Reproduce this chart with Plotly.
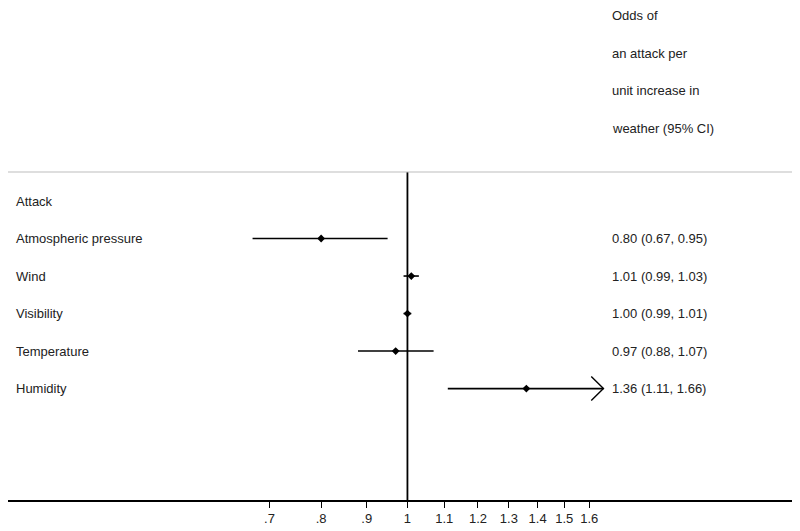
import numpy as np
import plotly.graph_objects as go

labels = ["Attack", "Atmospheric pressure", "Wind", "Visibility", "Temperature", "Humidity"]
or_est = [None, 0.80, 1.01, 1.00, 0.97, 1.36]
ci_lo = [None, 0.67, 0.99, 0.99, 0.88, 1.11]
ci_hi = [None, 0.95, 1.03, 1.01, 1.07, 1.66]
axis_max = 1.6  # CIs beyond this are drawn with an arrow
tick_vals = [0.7, 0.8, 0.9, 1.0, 1.1, 1.2, 1.3, 1.4, 1.5, 1.6]
tick_text = [".7", ".8", ".9", "1", "1.1", "1.2", "1.3", "1.4", "1.5", "1.6"]
header = ["Odds of", "an attack per", "unit increase in", "weather (95% CI)"]

FONT = "Liberation Sans, Arial, Helvetica, sans-serif"
fig = go.Figure()

# CI lines
for i, (e, lo, hi) in enumerate(zip(or_est, ci_lo, ci_hi)):
    if e is None:
        continue
    fig.add_trace(go.Scatter(x=[lo, hi], y=[i, i], mode="lines",
                             line=dict(color="black", width=1.6),
                             hoverinfo="skip", showlegend=False))
    if hi > axis_max:
        # open arrowhead at the upper CI end
        back = hi * 0.969
        fig.add_trace(go.Scatter(x=[back, hi, back], y=[i - 0.32, i, i + 0.32],
                                 mode="lines", line=dict(color="black", width=1.4),
                                 hoverinfo="skip", showlegend=False))

# Point estimates
ys = [i for i, e in enumerate(or_est) if e is not None]
xs = [e for e in or_est if e is not None]
fig.add_trace(go.Scatter(x=xs, y=ys, mode="markers",
                         marker=dict(symbol="diamond", size=6, color="black"),
                         showlegend=False))

annotations = []
for i, lab in enumerate(labels):
    annotations.append(dict(x=0.0076, xref="paper", y=i, yref="y", text=lab,
                            showarrow=False, xanchor="left", yanchor="middle",
                            font=dict(size=13, color="#222")))
    if or_est[i] is not None:
        txt = f"{or_est[i]:.2f} ({ci_lo[i]:.2f}, {ci_hi[i]:.2f})"
        annotations.append(dict(x=0.7665, xref="paper", y=i, yref="y", text=txt,
                                showarrow=False, xanchor="left", yanchor="middle",
                                font=dict(size=13, color="#222")))
for k, h in enumerate(header):
    annotations.append(dict(x=0.7665, xref="paper", y=1.476 - k * 0.114, yref="paper", text=h,
                            showarrow=False, xanchor="left", yanchor="middle",
                            font=dict(size=13, color="#222")))

shapes = [
    dict(type="line", xref="x", yref="paper", x0=1, x1=1, y0=0, y1=1,
         line=dict(color="black", width=1.8)),
    dict(type="line", xref="paper", yref="paper", x0=0, x1=1, y0=1, y1=1,
         line=dict(color="#bdbdbd", width=1.2)),
]

fig.update_layout(
    width=800, height=531,
    margin=dict(l=0, r=15, t=164, b=39),
    paper_bgcolor="white", plot_bgcolor="white",
    font=dict(family=FONT, size=13, color="#222"),
    annotations=annotations, shapes=shapes,
    xaxis=dict(type="log", range=[np.log10(0.356), np.log10(2.71)],
               tickvals=tick_vals, ticktext=tick_text,
               showline=True, linecolor="black", linewidth=1.5,
               ticks="outside", ticklen=6, tickwidth=1.2, tickcolor="black",
               showgrid=False, zeroline=False, tickfont=dict(size=13)),
    yaxis=dict(range=[7.97, -0.773], showticklabels=False, showgrid=False,
               zeroline=False, showline=False),
)

fig.write_html("out.html")
